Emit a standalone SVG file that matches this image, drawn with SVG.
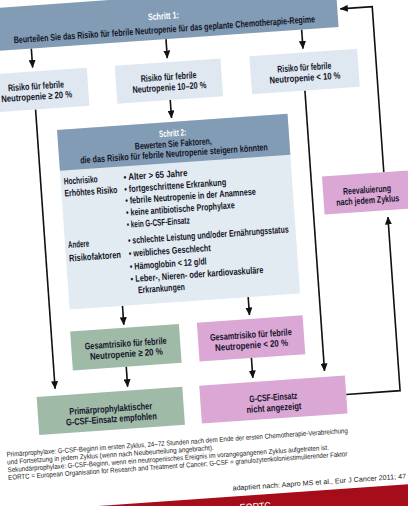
<svg xmlns="http://www.w3.org/2000/svg" width="408" height="506" viewBox="0 0 408 506">
<defs>
<marker id="ah" viewBox="0 0 8 7" refX="7.5" refY="3.5" markerWidth="8" markerHeight="7" markerUnits="userSpaceOnUse" orient="auto">
<path d="M0,0 L8,3.5 L0,7 z" fill="#111"/>
</marker>
<style>
text{font-family:"Liberation Sans Narrow","Liberation Sans",Arial,sans-serif;font-weight:bold;fill:#141428;font-size:9.5px}
.c{text-anchor:middle}
.w{fill:#ffffff}
.hdr{fill:#819cb4}
.lt{fill:#dfe8f0}
.gr{fill:#a0baa8}
.pk{fill:#dba8d6}
.ln{fill:none;stroke:#111;stroke-width:1.6}
.ar{marker-end:url(#ah)}
.ft{font-size:7px;font-weight:normal;fill:#1a1a1a}
</style>
</defs>
<rect x="0" y="0" width="408" height="506" fill="#ffffff"/>
<g transform="rotate(-4 204 253)">
<g id="connectors">
<line class="ln ar" x1="46" y1="37" x2="46" y2="56"/>
<line class="ln ar" x1="181" y1="37" x2="181" y2="56"/>
<line class="ln ar" x1="317" y1="37" x2="317" y2="56"/>
<line class="ln ar" x1="46" y1="98" x2="46" y2="378"/>
<line class="ln ar" x1="181" y1="98" x2="181" y2="116"/>
<line class="ln ar" x1="316" y1="98" x2="316" y2="379"/>
<line class="ln ar" x1="119" y1="300" x2="119" y2="319"/>
<line class="ln ar" x1="245" y1="300" x2="245" y2="318"/>
<line class="ln ar" x1="118.5" y1="361" x2="118.5" y2="381"/>
<line class="ln ar" x1="244" y1="361" x2="244" y2="381"/>
<polyline class="ln ar" points="336,404 390,404 390,230"/>
<polyline class="ln ar" points="389,185 389,19 357,19"/>
</g>
<g id="step1">
<rect class="hdr" x="-20" y="-6" width="374" height="43"/>
<text class="c w" x="180" y="17" textLength="31" lengthAdjust="spacingAndGlyphs">Schritt 1:</text>
<text class="c" x="180" y="30.5" textLength="302" lengthAdjust="spacingAndGlyphs">Beurteilen Sie das Risiko für febrile Neutropenie für das geplante Chemotherapie-Regime</text>
</g>
<g id="risk-high">
<rect class="lt" x="-6" y="60" width="106" height="38"/>
<text class="c" x="48" y="78" textLength="56" lengthAdjust="spacingAndGlyphs">Risiko für febrile</text>
<text class="c" x="48" y="88.5" textLength="71" lengthAdjust="spacingAndGlyphs">Neutropenie ≥ 20 %</text>
</g>
<g id="risk-mid">
<rect class="lt" x="128" y="60" width="106" height="38"/>
<text class="c" x="181" y="78" textLength="56" lengthAdjust="spacingAndGlyphs">Risiko für febrile</text>
<text class="c" x="181" y="88.5" textLength="74" lengthAdjust="spacingAndGlyphs">Neutropenie 10–20 %</text>
</g>
<g id="risk-low">
<rect class="lt" x="263" y="60" width="108" height="38"/>
<text class="c" x="317" y="78" textLength="54" lengthAdjust="spacingAndGlyphs">Risiko für febrile</text>
<text class="c" x="317" y="88.5" textLength="71" lengthAdjust="spacingAndGlyphs">Neutropenie &lt; 10 %</text>
</g>
<g id="step2">
<rect x="66" y="120" width="231" height="180" fill="#e2ebf2"/>
<rect class="hdr" x="66" y="120" width="231" height="41"/>
<text class="c w" x="181" y="134.5" textLength="27" lengthAdjust="spacingAndGlyphs">Schritt 2:</text>
<text class="c" x="181" y="145" textLength="77" lengthAdjust="spacingAndGlyphs">Bewerten Sie Faktoren,</text>
<text class="c" x="181" y="155" textLength="188" lengthAdjust="spacingAndGlyphs">die das Risiko für febrile Neutropenie steigern könnten</text>
<text x="69" y="175" textLength="34" lengthAdjust="spacingAndGlyphs">Hochrisiko</text>
<text x="69" y="187" textLength="53" lengthAdjust="spacingAndGlyphs">Erhöhtes Risiko</text>
<text x="69" y="238.5" textLength="21" lengthAdjust="spacingAndGlyphs">Andere</text>
<text x="69" y="252" textLength="52" lengthAdjust="spacingAndGlyphs">Risikofaktoren</text>
<text x="129" y="175" textLength="64" lengthAdjust="spacingAndGlyphs">• Alter &gt; 65 Jahre</text>
<text x="129" y="187" textLength="102" lengthAdjust="spacingAndGlyphs">• fortgeschrittene Erkrankung</text>
<text x="129" y="198.5" textLength="131" lengthAdjust="spacingAndGlyphs">• febrile Neutropenie in der Anamnese</text>
<text x="129" y="210.5" textLength="109" lengthAdjust="spacingAndGlyphs">• keine antibiotische Prophylaxe</text>
<text x="129" y="222.5" textLength="63" lengthAdjust="spacingAndGlyphs">• kein G-CSF-Einsatz</text>
<text x="129" y="238.5" textLength="161" lengthAdjust="spacingAndGlyphs">• schlechte Leistung und/oder Ernährungsstatus</text>
<text x="129" y="251.5" textLength="82" lengthAdjust="spacingAndGlyphs">• weibliches Geschlecht</text>
<text x="129" y="264.5" textLength="77" lengthAdjust="spacingAndGlyphs">• Hämoglobin &lt; 12 g/dl</text>
<text x="129" y="277" textLength="133" lengthAdjust="spacingAndGlyphs">• Leber-, Nieren- oder kardiovaskuläre</text>
<text x="135.5" y="288.5" textLength="47" lengthAdjust="spacingAndGlyphs">Erkrankungen</text>
</g>
<g id="reeval">
<rect class="pk" x="327" y="185" width="86" height="38"/>
<text class="c" x="371" y="204.5" textLength="48" lengthAdjust="spacingAndGlyphs">Reevaluierung</text>
<text class="c" x="371" y="215" textLength="63" lengthAdjust="spacingAndGlyphs">nach jedem Zyklus</text>
</g>
<g id="total-high">
<rect class="gr" x="65" y="322" width="109" height="39"/>
<text class="c" x="119.5" y="341" textLength="82" lengthAdjust="spacingAndGlyphs">Gesamtrisiko für febrile</text>
<text class="c" x="119.5" y="351.5" textLength="73" lengthAdjust="spacingAndGlyphs">Neutropenie ≥ 20 %</text>
</g>
<g id="total-low">
<rect class="pk" x="192" y="322" width="106" height="39"/>
<text class="c" x="245" y="341" textLength="82" lengthAdjust="spacingAndGlyphs">Gesamtrisiko für febrile</text>
<text class="c" x="245" y="351.5" textLength="73" lengthAdjust="spacingAndGlyphs">Neutropenie &lt; 20 %</text>
</g>
<g id="gcsf-yes">
<rect class="gr" x="27" y="385" width="146" height="38"/>
<text class="c" x="100" y="405" textLength="83" lengthAdjust="spacingAndGlyphs">Primärprophylaktischer</text>
<text class="c" x="100" y="415.5" textLength="91" lengthAdjust="spacingAndGlyphs">G-CSF-Einsatz empfohlen</text>
</g>
<g id="gcsf-no">
<rect class="pk" x="190" y="385" width="146" height="38"/>
<text class="c" x="263" y="405" textLength="48" lengthAdjust="spacingAndGlyphs">G-CSF-Einsatz</text>
<text class="c" x="263" y="415.5" textLength="55" lengthAdjust="spacingAndGlyphs">nicht angezeigt</text>
</g>
<g id="footer">
<text class="ft" x="-7" y="442.5" textLength="342" lengthAdjust="spacingAndGlyphs">Primärprophylaxe: G-CSF-Beginn im ersten Zyklus, 24–72 Stunden nach dem Ende der ersten Chemotherapie-Verabreichung</text>
<text class="ft" x="-7" y="450.2" textLength="207" lengthAdjust="spacingAndGlyphs">und Fortsetzung in jedem Zyklus (wenn nach Neubeurteilung angebracht).</text>
<text class="ft" x="-7" y="458" textLength="322" lengthAdjust="spacingAndGlyphs">Sekundärprophylaxe: G-CSF-Beginn, wenn ein neutropenisches Ereignis im vorangegangenen Zyklus aufgetreten ist.</text>
<text class="ft" x="-7" y="465.7" textLength="340" lengthAdjust="spacingAndGlyphs">EORTC = European Organisation for Research and Treatment of Cancer; G-CSF = granulozytenkoloniestimulierender Faktor</text>
<text class="ft" x="216" y="492" textLength="174" lengthAdjust="spacingAndGlyphs">adaptiert nach: Aapro MS et al., Eur J Cancer 2011; 47</text>
</g>
<g id="band">
<rect x="-20" y="498" width="460" height="40" fill="#a50d1b"/>
<text x="222" y="513" style="fill:#ffffff;font-weight:normal;font-size:10px" textLength="31" lengthAdjust="spacingAndGlyphs">EORTC</text>
</g>
</g>
</svg>
